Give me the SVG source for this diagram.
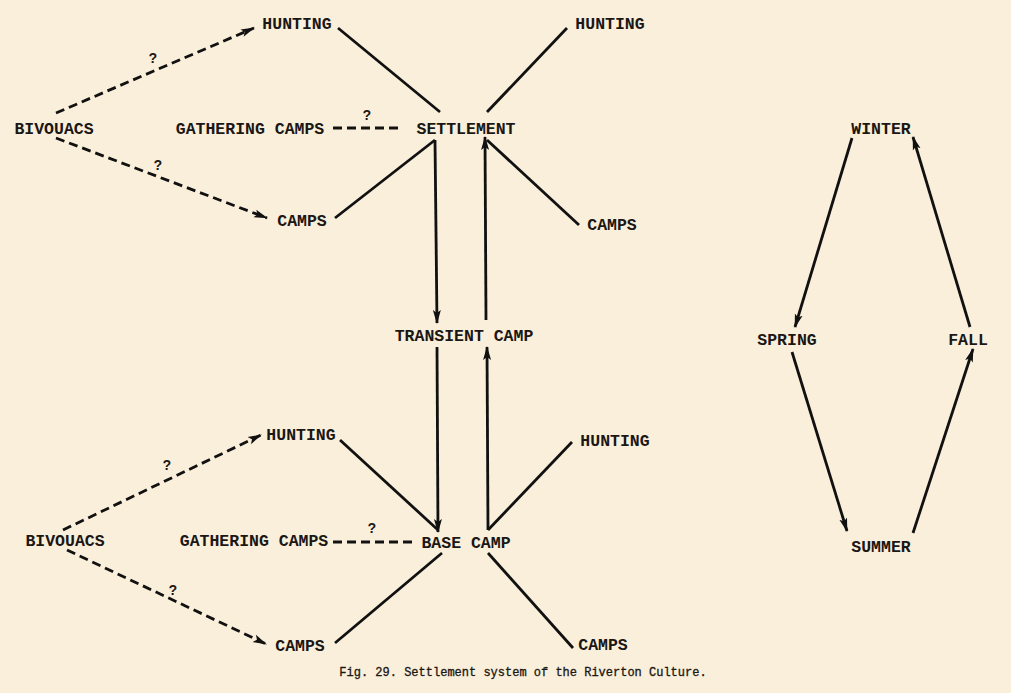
<svg xmlns="http://www.w3.org/2000/svg" width="1011" height="693" viewBox="0 0 1011 693">
<defs>
<style>
.t{font-family:"Liberation Mono","Courier New",monospace;font-size:16.5px;font-weight:bold;fill:#1a1714;text-anchor:middle}
.q{font-family:"Liberation Mono","Courier New",monospace;font-size:14px;font-weight:bold;fill:#1a1714;text-anchor:middle}
.cap{font-family:"Liberation Mono","Courier New",monospace;font-size:12px;fill:#1a1714;stroke:#1a1714;stroke-width:0.3;text-anchor:middle}
.l{stroke:#111;stroke-width:2.8;fill:none}
.d{stroke:#111;stroke-width:2.8;fill:none;stroke-dasharray:9 5}
.a{marker-end:url(#ah)}
</style>
<marker id="ah" markerUnits="userSpaceOnUse" markerWidth="14" markerHeight="10" viewBox="0 0 14 10" refX="13" refY="5" orient="auto">
<path d="M0,1 L14,5 L0,9 L3,5 Z" fill="#111"/>
</marker>
</defs>
<rect x="0" y="0" width="1011" height="693" fill="#FAEFDB"/>
<g id="connectors">
<line class="d a" x1="56" y1="113" x2="254" y2="28"/>
<line class="d a" x1="56" y1="138" x2="267" y2="218"/>
<line class="d" x1="333" y1="128" x2="402" y2="128"/>
<line class="l" x1="338" y1="28" x2="440" y2="112"/>
<line class="l" x1="487" y1="112" x2="567" y2="28"/>
<line class="l" x1="335" y1="218" x2="435" y2="140"/>
<line class="l" x1="487" y1="140" x2="579" y2="225"/>
<line class="l a" x1="435" y1="140" x2="437" y2="323"/>
<line class="l a" x1="486" y1="320" x2="485" y2="137"/>
<line class="l a" x1="437" y1="347" x2="438" y2="532"/>
<line class="l a" x1="488" y1="530" x2="487" y2="347"/>
<line class="l" x1="340" y1="440" x2="438" y2="530"/>
<line class="l" x1="488" y1="530" x2="572" y2="442"/>
<line class="l" x1="488" y1="553" x2="573" y2="648"/>
<line class="l" x1="442" y1="553" x2="335" y2="643"/>
<line class="d a" x1="63" y1="530" x2="261" y2="435"/>
<line class="d a" x1="67" y1="550" x2="266" y2="644"/>
<line class="d" x1="333" y1="542" x2="415" y2="542"/>
<line class="l a" x1="852" y1="138" x2="795" y2="327"/>
<line class="l a" x1="792" y1="352" x2="847" y2="531"/>
<line class="l a" x1="913" y1="533" x2="973" y2="349"/>
<line class="l a" x1="970" y1="327" x2="913" y2="137"/>
<text class="q" x="153" y="63">?</text>
<text class="q" x="158" y="170">?</text>
<text class="q" x="367" y="120">?</text>
<text class="q" x="167" y="470">?</text>
<text class="q" x="173" y="595">?</text>
<text class="q" x="372" y="533">?</text>
</g>
<g id="hunting-tl"><text class="t" x="297" y="29">HUNTING</text></g>
<g id="hunting-tr"><text class="t" x="610" y="29">HUNTING</text></g>
<g id="bivouacs-top"><text class="t" x="54" y="134">BIVOUACS</text></g>
<g id="gathering-top"><text class="t" x="250" y="134">GATHERING CAMPS</text></g>
<g id="settlement"><text class="t" x="466" y="134">SETTLEMENT</text></g>
<g id="camps-tl"><text class="t" x="302" y="226">CAMPS</text></g>
<g id="camps-tr"><text class="t" x="612" y="230">CAMPS</text></g>
<g id="transient"><text class="t" x="464" y="341">TRANSIENT CAMP</text></g>
<g id="hunting-bl"><text class="t" x="301" y="440">HUNTING</text></g>
<g id="hunting-br"><text class="t" x="615" y="446">HUNTING</text></g>
<g id="bivouacs-bottom"><text class="t" x="65" y="546">BIVOUACS</text></g>
<g id="gathering-bottom"><text class="t" x="254" y="546">GATHERING CAMPS</text></g>
<g id="basecamp"><text class="t" x="466" y="548">BASE CAMP</text></g>
<g id="camps-bl"><text class="t" x="300" y="651">CAMPS</text></g>
<g id="camps-br"><text class="t" x="603" y="650">CAMPS</text></g>
<g id="winter"><text class="t" x="881" y="134">WINTER</text></g>
<g id="spring"><text class="t" x="787" y="345">SPRING</text></g>
<g id="fall"><text class="t" x="968" y="345">FALL</text></g>
<g id="summer"><text class="t" x="881" y="552">SUMMER</text></g>
<g id="caption"><text class="cap" x="523" y="676">Fig. 29. Settlement system of the Riverton Culture.</text></g>
</svg>
